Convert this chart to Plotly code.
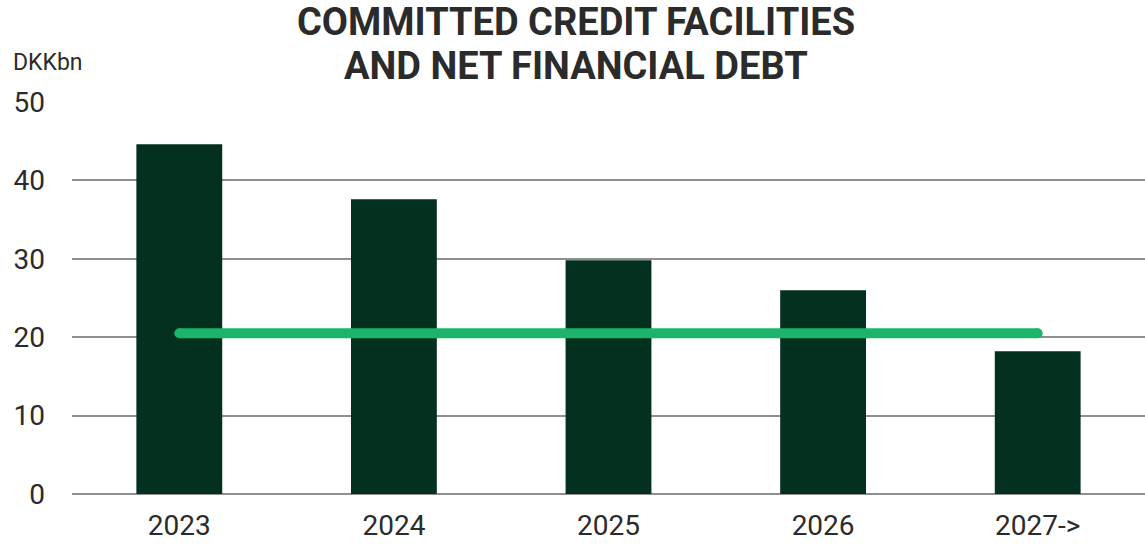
import plotly.graph_objects as go

categories = ["2023", "2024", "2025", "2026", "2027->"]
credit_facilities = [44.6, 37.6, 29.8, 26.0, 18.2]
net_financial_debt = [20.5, 20.5, 20.5, 20.5, 20.5]
y_ticks = [0, 10, 20, 30, 40, 50]
title_lines = ["COMMITTED CREDIT FACILITIES", "AND NET FINANCIAL DEBT"]

BAR_COLOR = "#03301F"
LINE_COLOR = "#1BB46A"
TEXT_COLOR = "#2B2B2B"
FONT = "Roboto"

fig = go.Figure()
fig.add_trace(go.Bar(
    x=categories, y=credit_facilities,
    marker=dict(color=BAR_COLOR, line=dict(width=0)),
    name="Committed credit facilities",
))
fig.add_trace(go.Scatter(
    x=categories, y=net_financial_debt,
    mode="lines",
    line=dict(color=LINE_COLOR, width=10),
    name="Net financial debt",
))
# rounded ends of the debt line
fig.add_trace(go.Scatter(
    x=[categories[0], categories[-1]],
    y=[net_financial_debt[0], net_financial_debt[-1]],
    mode="markers",
    marker=dict(color=LINE_COLOR, size=10, line=dict(width=0)),
    hoverinfo="skip",
))

annotations = [dict(
    text="DKKbn", xref="paper", yref="paper",
    x=-0.057, y=1.102, xanchor="left", yanchor="middle",
    showarrow=False, font=dict(family=FONT, size=23, color=TEXT_COLOR),
)]
for line, ypos in zip(title_lines, [1.204, 1.092]):
    annotations.append(dict(
        text=f"<b>{line}</b>", xref="paper", yref="paper",
        x=0.47, y=ypos, xanchor="center", yanchor="middle",
        showarrow=False, font=dict(family=FONT, size=38, color=TEXT_COLOR),
    ))

fig.update_layout(
    width=1145, height=547,
    margin=dict(l=72, r=0, t=102, b=53),
    paper_bgcolor="white", plot_bgcolor="white",
    showlegend=False,
    bargap=0.6,
    font=dict(family=FONT, color=TEXT_COLOR),
    annotations=annotations,
)
fig.update_xaxes(
    showgrid=False, showline=False, ticks="",
    tickfont=dict(size=28, color=TEXT_COLOR),
    ticklabelstandoff=12,
)
fig.update_yaxes(
    range=[0, 50], tickvals=y_ticks,
    showgrid=True, gridcolor="#8F8F8F", gridwidth=1.5,
    zeroline=True, zerolinecolor="#8F8F8F", zerolinewidth=1.5,
    showline=False, ticks="",
    tickfont=dict(size=28, color=TEXT_COLOR),
    ticklabelstandoff=26,
)

fig.write_html("out.html")
